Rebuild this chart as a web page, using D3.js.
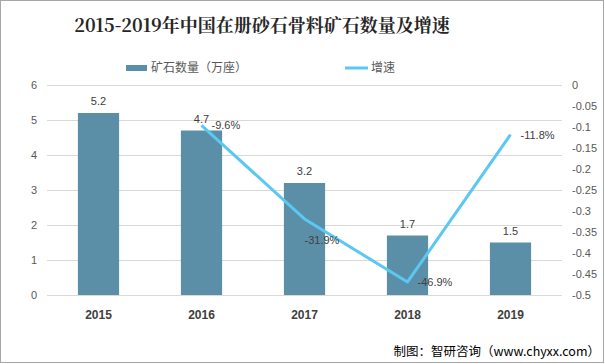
<!DOCTYPE html>
<html><head><meta charset="utf-8">
<script src="https://cdn.jsdelivr.net/npm/d3@7/dist/d3.min.js"></script>
<style>
body{margin:0;padding:0;background:#fff;}
svg text{font-family:"Noto Sans CJK SC","Noto Sans",sans-serif;}
</style></head>
<body><svg id="c" width="605" height="364"></svg>
<script>
const years = ["2015","2016","2017","2018","2019"];
const mineCount = [5.2, 4.7, 3.2, 1.7, 1.5];
const growth = [null, -0.096, -0.319, -0.469, -0.118];
const growthLabels = ["", "-9.6%", "-31.9%", "-46.9%", "-11.8%"];
const leftTicks = [0,1,2,3,4,5,6];
const rightTicks = [0,-0.05,-0.1,-0.15,-0.2,-0.25,-0.3,-0.35,-0.4,-0.45,-0.5];
const titleText = "2015-2019年中国在册砂石骨料矿石数量及增速";
const legendBar = "矿石数量（万座）";
const legendLine = "增速";
const sourceText = "制图：智研咨询（www.chyxx.com）";

(function(){
const svg = d3.select("#c");
const W = 605, H = 364;
const pLeft = 47, pRight = 562, pTop = 85, pBottom = 295;

svg.append("rect").attr("x",0.5).attr("y",0.5).attr("width",W-2).attr("height",H-2)
  .attr("fill","#fff").attr("stroke","#a6a6a6").attr("stroke-width",1);

const x = d3.scaleBand().domain(years).range([pLeft,pRight]).paddingInner(0.6).paddingOuter(0.3);
const xc = d3.scaleBand().domain(years).range([pLeft,pRight]);
const yL = d3.scaleLinear().domain([0,6]).range([pBottom,pTop]);
const yR = d3.scaleLinear().domain([-0.5,0]).range([pBottom,pTop]);

svg.append("g").selectAll("line").data(leftTicks).join("line")
  .attr("x1",pLeft).attr("x2",pRight).attr("y1",d=>yL(d)+0.5).attr("y2",d=>yL(d)+0.5)
  .attr("stroke","#d9d9d9").attr("stroke-width",1);

const gl = svg.append("g").attr("transform",`translate(${pLeft},0)`)
  .call(d3.axisLeft(yL).tickValues(leftTicks).tickSize(0).tickPadding(10).tickFormat(d3.format("d")));
gl.select(".domain").remove();
gl.selectAll("text").attr("fill","#595959").style("font-size","11px").style("font-family","'Liberation Sans',sans-serif");

const gr = svg.append("g").attr("transform",`translate(${pRight},0)`)
  .call(d3.axisRight(yR).tickValues(rightTicks).tickSize(0).tickPadding(10).tickFormat(d=>d===0?"0":String(+d.toFixed(2))));
gr.select(".domain").remove();
gr.selectAll("text").attr("fill","#595959").style("font-size","11px").style("font-family","'Liberation Sans',sans-serif");

const gx = svg.append("g").attr("transform",`translate(0,${pBottom})`)
  .call(d3.axisBottom(xc).tickSize(0).tickPadding(15));
gx.select(".domain").remove();
gx.selectAll("text").attr("fill","#404040").style("font-size","12px").style("font-weight","bold").style("font-family","'Liberation Sans',sans-serif");

svg.append("g").selectAll("rect").data(mineCount).join("rect")
  .attr("x",(d,i)=>x(years[i])).attr("width",x.bandwidth())
  .attr("y",d=>yL(d)).attr("height",d=>pBottom-yL(d)).attr("fill","#5b8fa8");

svg.append("g").selectAll("text").data(mineCount).join("text")
  .attr("x",(d,i)=>x(years[i])+x.bandwidth()/2).attr("y",d=>yL(d)-8)
  .attr("text-anchor","middle").attr("fill","#404040")
  .style("font-size","11px").style("font-family","'Liberation Sans',sans-serif")
  .text(d=>d.toFixed(1));

const pts = growth.map((g,i)=>({g,i})).filter(p=>p.g!==null);
const line = d3.line().x(p=>xc(years[p.i])+xc.bandwidth()/2).y(p=>yR(p.g));
svg.append("path").datum(pts).attr("d",line).attr("fill","none")
  .attr("stroke","#5bc8f2").attr("stroke-width",3).attr("stroke-linejoin","round");

const lblOffset = {1:[10,0],2:[0,21],3:[10,0],4:[10,0]};
svg.append("g").selectAll("text").data(pts).join("text")
  .attr("x",p=>xc(years[p.i])+xc.bandwidth()/2+lblOffset[p.i][0])
  .attr("y",p=>yR(p.g)+lblOffset[p.i][1]+4)
  .attr("fill","#404040").style("font-size","11px").style("font-family","'Liberation Sans',sans-serif")
  .text(p=>growthLabels[p.i]);

svg.append("text").attr("x",262).attr("y",32).attr("text-anchor","middle")
  .attr("fill","#262626").style("font-size","18px").style("font-weight","bold")
  .style("font-family","'Noto Serif CJK SC','Noto Sans CJK SC',serif")
  .text(titleText);

svg.append("rect").attr("x",126).attr("y",65).attr("width",21).attr("height",6).attr("fill","#5b8fa8");
svg.append("text").attr("x",151).attr("y",72).attr("fill","#595959").style("font-size","12px").text(legendBar);
svg.append("line").attr("x1",345).attr("x2",368).attr("y1",68).attr("y2",68).attr("stroke","#5bc8f2").attr("stroke-width",3);
svg.append("text").attr("x",371).attr("y",72).attr("fill","#595959").style("font-size","12px").text(legendLine);

svg.append("text").attr("x",600).attr("y",356).attr("text-anchor","end").attr("fill","#000")
  .style("font-size","12.5px").text(sourceText);
})();
</script></body></html>
